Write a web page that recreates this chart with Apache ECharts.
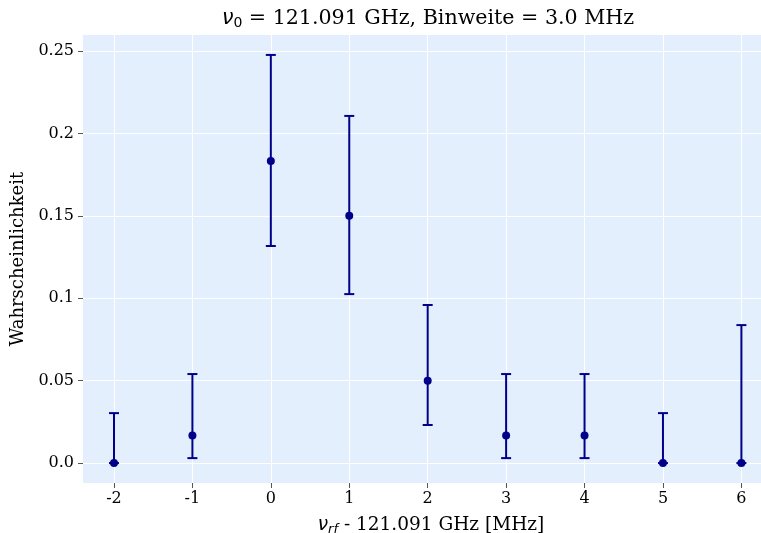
<!DOCTYPE html>
<html>
<head>
<meta charset="utf-8">
<script src="https://cdn.jsdelivr.net/npm/echarts@6/dist/echarts.min.js"></script>
<style>
  html, body { margin: 0; padding: 0; background: #ffffff; }
  #chart { width: 761px; height: 533px; }
</style>
</head>
<body>
<div id="chart"></div>
<script>
// Frequency offsets (MHz) relative to 121.091 GHz
const offsets = [-2, -1, 0, 1, 2, 3, 4, 5, 6];
// Estimated probability per bin
const probs = [0.0, 0.0167, 0.1833, 0.15, 0.05, 0.0167, 0.0167, 0.0, 0.0];
// Lower and upper ends of the confidence intervals
const lowerBounds = [0.0, 0.003, 0.1317, 0.1025, 0.0231, 0.003, 0.003, 0.0, 0.0];
const upperBounds = [0.0303, 0.054, 0.2476, 0.2106, 0.0959, 0.054, 0.054, 0.0303, 0.0837];
// Axis ticks
const xTicks = [-2, -1, 0, 1, 2, 3, 4, 5, 6];
const yTicks = [0, 0.05, 0.1, 0.15, 0.2, 0.25];
const yTickLabels = ['0.0', '0.05', '0.1', '0.15', '0.2', '0.25'];

const markColor = '#00008b';
const serif = '"DejaVu Serif", serif';
const sans = '"DejaVu Sans", sans-serif';

const chart = echarts.init(document.getElementById('chart'), null, { renderer: 'canvas' });

const errData = offsets.map((x, i) => [x, lowerBounds[i], upperBounds[i]]);
const pointData = offsets.map((x, i) => [x, probs[i]]);

chart.setOption({
  animation: false,
  title: {
    text: '{i|ν}{sub|0}{t| = 121.091 GHz, Binweite = 3.0 MHz}',
    left: 423,
    textAlign: 'center',
    top: 2,
    textStyle: {
      fontWeight: 'normal',
      rich: {
        i: { fontFamily: sans, fontStyle: 'italic', fontWeight: 'normal', fontSize: 20.6, color: '#000' },
        sub: { fontFamily: sans, fontWeight: 'normal', fontSize: 14, color: '#000', padding: [9, 0, 0, 0] },
        t: { fontFamily: serif, fontWeight: 'normal', fontSize: 20.6, color: '#000' }
      }
    }
  },
  grid: {
    left: 83, right: 0, top: 35, bottom: 50,
    outerBoundsMode: 'none',
    containLabel: false,
    show: true, backgroundColor: '#e3effd', borderWidth: 0
  },
  xAxis: {
    type: 'value',
    min: -2.395, max: 6.25,
    name: '{i|ν}{sub|rf}{t| - 121.091 GHz [MHz]}',
    nameLocation: 'middle',
    nameGap: 32,
    nameTextStyle: {
      padding: [0, 0, 0, 18],
      rich: {
        i: { fontFamily: sans, fontStyle: 'italic', fontSize: 18.5, color: '#000' },
        sub: { fontFamily: sans, fontStyle: 'italic', fontSize: 13, color: '#000', padding: [8, 0, 0, 0] },
        t: { fontFamily: serif, fontSize: 18.5, color: '#000' }
      }
    },
    axisLine: { show: false, onZero: false },
    axisTick: { show: true, length: 5, customValues: xTicks, lineStyle: { color: '#555', width: 1 } },
    axisLabel: {
      customValues: xTicks, margin: 8,
      fontFamily: serif, fontSize: 16, color: '#000'
    },
    splitLine: { show: true, lineStyle: { color: '#ffffff', width: 1 } }
  },
  yAxis: {
    type: 'value',
    min: -0.0121, max: 0.2597,
    name: 'Wahrscheinlichkeit',
    nameLocation: 'middle',
    nameGap: 55,
    nameTextStyle: { fontFamily: serif, fontSize: 18, color: '#000' },
    axisLine: { show: false, onZero: false },
    axisTick: { show: true, length: 5, customValues: yTicks, lineStyle: { color: '#555', width: 1 } },
    axisLabel: {
      customValues: yTicks, margin: 9,
      fontFamily: serif, fontSize: 16, color: '#000',
      formatter: v => {
        const idx = yTicks.findIndex(t => Math.abs(t - v) < 1e-9);
        return idx >= 0 ? yTickLabels[idx] : '';
      }
    },
    splitLine: { show: true, lineStyle: { color: '#ffffff', width: 1 } }
  },
  series: [
    {
      type: 'custom',
      name: 'Fehlerbalken',
      data: errData,
      encode: { x: 0, y: [1, 2] },
      renderItem: (params, api) => {
        const x = api.value(0);
        const lo = api.coord([x, api.value(1)]);
        const hi = api.coord([x, api.value(2)]);
        const cap = 5;
        const style = { stroke: markColor, lineWidth: 2 };
        return {
          type: 'group',
          children: [
            { type: 'line', shape: { x1: lo[0], y1: lo[1], x2: hi[0], y2: hi[1] }, style },
            { type: 'line', shape: { x1: hi[0] - cap, y1: hi[1], x2: hi[0] + cap, y2: hi[1] }, style },
            { type: 'line', shape: { x1: lo[0] - cap, y1: lo[1], x2: lo[0] + cap, y2: lo[1] }, style }
          ]
        };
      },
      z: 2
    },
    {
      type: 'scatter',
      name: 'Wahrscheinlichkeit',
      data: pointData,
      symbol: 'circle',
      symbolSize: 8,
      itemStyle: { color: markColor, opacity: 1 },
      z: 3
    }
  ]
});
</script>
</body>
</html>
